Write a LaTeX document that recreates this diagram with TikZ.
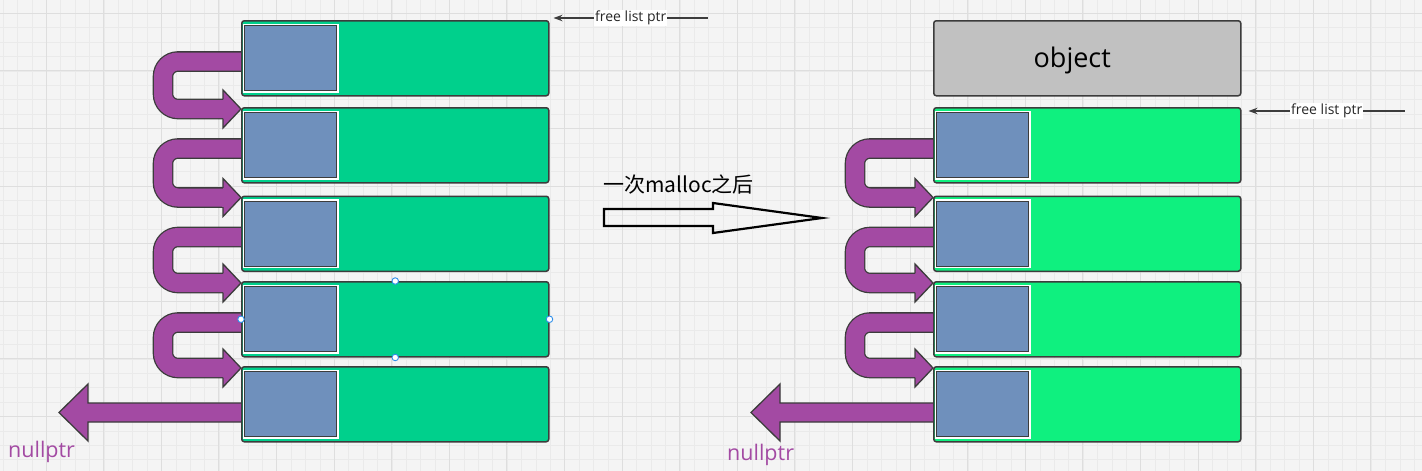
\documentclass[tikz,border=0pt]{standalone}
\usepackage{fontspec}
\newfontfamily\osans{Open Sans}
\newfontfamily\cjk{Noto Sans CJK SC}
\usetikzlibrary{calc,arrows.meta}
\definecolor{dk}{HTML}{3C3C3C}
\definecolor{cgreenA}{HTML}{00D08C}
\definecolor{cgreenB}{HTML}{0FF07F}
\definecolor{cblue}{HTML}{6F90BC}
\definecolor{cpurple}{HTML}{A34AA3}
\definecolor{cgray}{HTML}{C1C1C1}
\definecolor{cbg}{HTML}{F4F4F4}
\definecolor{cminor}{HTML}{EAEAEA}
\definecolor{cmajor}{HTML}{DEDEDE}
\definecolor{chandle}{HTML}{2F8FEA}
\pgfdeclarelayer{gridlayer}
\pgfdeclarelayer{arrowlayer}
\pgfsetlayers{gridlayer,arrowlayer,main}
\tikzset{
  blk/.style={draw=dk, line width=1.5, rounded corners=2.5, minimum width=307pt, minimum height=75pt, anchor=north west, inner sep=0pt},
  ibox/.style={draw=dk, fill=cblue, line width=1.4, minimum width=92pt, minimum height=65pt, anchor=north west, inner sep=0pt, preaction={draw=white, line width=3.6}},
  uband/.style={draw=dk, line width=1.3, double=cpurple, double distance=18pt, rounded corners=15},
  pout/.style={draw=dk, line width=1.3, line join=miter},
  ptr/.style={draw=dk, line width=1.2, {Stealth[length=9pt,width=6.5pt]}-},
  ptrlabel/.style={midway, fill=white, inner sep=1pt, text=black!85, font=\osans\fontsize{14}{14}\selectfont},
  handle/.style={circle, draw=chandle, fill=white, line width=0.9, minimum size=6.5pt, inner sep=0pt},
  nulltext/.style={text=cpurple, font=\osans\fontsize{21.5}{21.5}\selectfont, anchor=base west, inner sep=0pt},
}
\newcommand{\ulink}[2]{%
  \begin{pgfonlayer}{arrowlayer}
  \draw[uband] ($(#1.north west)+(0,-41.5)$) -- ++(-78,0) |- ($(#2.north west)+(-18,-2)$);
  \fill[cpurple] ($(#2.north west)+(-19,-11)$) rectangle ($(#2.north west)+(-17,7)$);
  \fill[cpurple] ($(#2.north west)+(-18,17)$) -- ($(#2.north west)+(0,-2)$) -- ($(#2.north west)+(-18,-21)$) -- cycle;
  \draw[pout] ($(#2.north west)+(-18,7.65)$) -- ($(#2.north west)+(-18,17)$) -- ($(#2.north west)+(0,-2)$) -- ($(#2.north west)+(-18,-21)$) -- ($(#2.north west)+(-18,-11.65)$);
  \end{pgfonlayer}}
\newcommand{\nulllink}[1]{%
  \begin{pgfonlayer}{arrowlayer}
  \filldraw[pout, fill=cpurple] ($(#1.north west)+(0,-37)$) -- ($(#1.north west)+(-153,-37)$) -- ($(#1.north west)+(-153,-18)$) -- ($(#1.north west)+(-182,-46.5)$) -- ($(#1.north west)+(-153,-75)$) -- ($(#1.north west)+(-153,-56)$) -- ($(#1.north west)+(0,-56)$);
  \end{pgfonlayer}}
\newcommand{\innerbox}[1]{\node[ibox] (#1i) at ($(#1.north west)+(3,-5)$) {};}
\begin{document}
\begin{tikzpicture}[x=1pt,y=1pt]
\useasboundingbox (0,0) rectangle (1422,-471);
% background grid
\begin{pgfonlayer}{gridlayer}
\fill[cbg] (0,0) rectangle (1422,-471);
\begin{scope}
\clip (0,0) rectangle (1422,-471);
\foreach \i in {0,...,98} {\draw[cminor, line width=0.8] ({3.2+14.4*\i},0) -- ++(0,-471);}
\foreach \i in {0,...,33} {\draw[cminor, line width=0.8] (0,{-(-1.1+14.4*\i)}) -- ++(1422,0);}
\foreach \i in {1,...,25} {\draw[cmajor, line width=1] ({-11.6+57.6*\i},0) -- ++(0,-471);}
\foreach \i in {0,...,8} {\draw[cmajor, line width=1] (0,{-(13.3+57.6*\i)}) -- ++(1422,0);}
\end{scope}
\end{pgfonlayer}
% left column
\node[blk, fill=cgreenA] (L1) at (241,-20) {};
\node[blk, fill=cgreenA] (L2) at (241,-107) {};
\node[blk, fill=cgreenA] (L3) at (241,-195.5) {};
\node[blk, fill=cgreenA] (L4) at (241,-281) {};
\node[blk, fill=cgreenA] (L5) at (241,-366) {};
\innerbox{L1}\innerbox{L2}\innerbox{L3}\innerbox{L4}\innerbox{L5}
\ulink{L1}{L2}\ulink{L2}{L3}\ulink{L3}{L4}\ulink{L4}{L5}
\nulllink{L5}
\node[nulltext] (nl) at (8,-457) {nullptr};
% selection handles on L4
\node[handle] (h1) at (L4.north) {};
\node[handle] (h2) at (L4.south) {};
\node[handle] (h3) at (L4.west) {};
\node[handle] (h4) at (L4.east) {};
% free list ptr (left)
\coordinate (fs1) at (708,-18);
\coordinate (fe1) at ($(L1.north east)+(4,2)$);
\draw[ptr] (fe1) -- (fs1) node[ptrlabel] (t1) {free list ptr};
% middle
\node[anchor=west, inner sep=0pt, font=\cjk\fontsize{21}{21}\selectfont] (mtxt) at (603,-185) {一次malloc之后};
\draw[black, line width=2.2, line join=miter] (604,-209) -- (713,-209) -- (713,-203) -- (822,-218) -- (713,-233) -- (713,-226) -- (604,-226) -- cycle;
% right column
\node[blk, fill=cgray, label={[xshift=-15pt, yshift=-2pt, font=\osans\fontsize{27}{27}\selectfont]center:object}] (obj) at (933,-20) {};
\node[blk, fill=cgreenB] (R1) at (933,-107) {};
\node[blk, fill=cgreenB] (R2) at (933,-195.5) {};
\node[blk, fill=cgreenB] (R3) at (933,-281) {};
\node[blk, fill=cgreenB] (R4) at (933,-366) {};
\innerbox{R1}\innerbox{R2}\innerbox{R3}\innerbox{R4}
\ulink{R1}{R2}\ulink{R2}{R3}\ulink{R3}{R4}
\nulllink{R4}
\node[nulltext] (nr) at (727,-460) {nullptr};
\coordinate (fs2) at (1405,-111);
\coordinate (fe2) at ($(R1.north east)+(7,-4)$);
\draw[ptr] (fe2) -- (fs2) node[ptrlabel] (t2) {free list ptr};
\end{tikzpicture}
\end{document}
